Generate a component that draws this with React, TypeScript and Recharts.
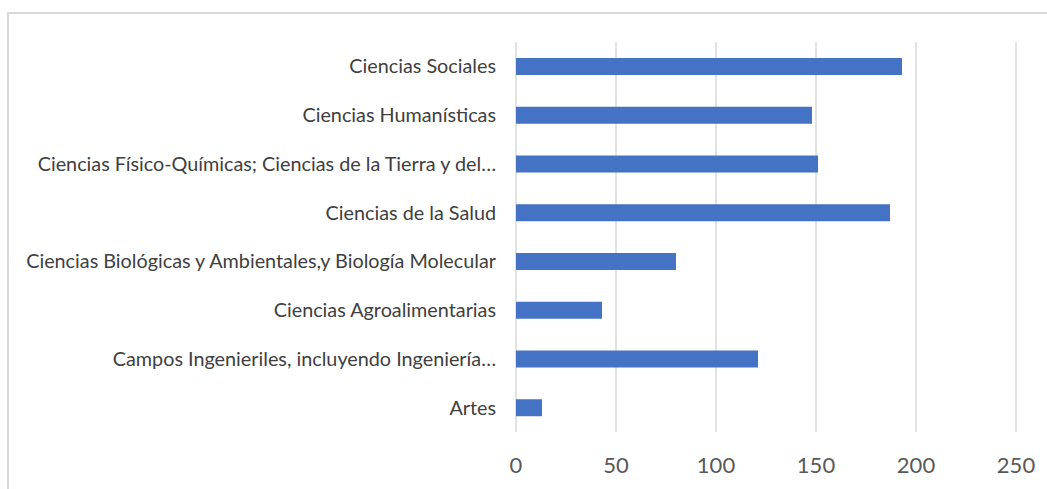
import React from "react";
import { BarChart, Bar, XAxis, YAxis, CartesianGrid } from "recharts";

// categories, top to bottom as shown
const categories = [
  "Ciencias Sociales",
  "Ciencias Humanísticas",
  "Ciencias Físico-Químicas; Ciencias de la Tierra y del…",
  "Ciencias de la Salud",
  "Ciencias Biológicas y Ambientales,y Biología Molecular",
  "Ciencias Agroalimentarias",
  "Campos Ingenieriles, incluyendo Ingeniería…",
  "Artes",
];
const values = [193, 148, 151, 187, 80, 43, 121, 13];
const xTicks = [0, 50, 100, 150, 200, 250];

const data = categories.map((name, i) => ({ name, value: values[i] }));

const App = () => {
  return (
    <div style={{ position: "fixed", left: 0, top: 0, width: 1047, height: 489, background: "#fff" }}>
      {/* chart frame */}
      <div
        style={{
          position: "absolute",
          left: 7,
          top: 12,
          width: 1040,
          height: 477,
          borderTop: "2px solid #d9d9d9",
          borderLeft: "2px solid #d9d9d9",
          boxSizing: "border-box",
        }}
      />
      <div style={{ position: "absolute", left: 0, top: 0 }}>
        <BarChart
          width={1047}
          height={489}
          data={data}
          layout="vertical"
          margin={{ top: 42, right: 31, left: 0, bottom: 7 }}
        >
          <CartesianGrid horizontal={false} stroke="#d9d9d9" strokeWidth={1.5} />
          <XAxis
            type="number"
            domain={[0, 250]}
            ticks={xTicks}
            height={50}
            axisLine={false}
            tickLine={false}
            tickSize={0}
            tickMargin={25}
            tick={{ fill: "#595959", fontSize: 22, fontFamily: "Lato" }}
          />
          <YAxis
            type="category"
            dataKey="name"
            width={516}
            axisLine={false}
            tickLine={false}
            tickSize={0}
            tickMargin={20}
            interval={0}
            tick={{ fill: "#404040", fontSize: 19.8, fontFamily: "Lato" }}
          />
          <Bar dataKey="value" fill="#4472C4" barSize={17} isAnimationActive={false} />
        </BarChart>
      </div>
    </div>
  );
};

export default App;
